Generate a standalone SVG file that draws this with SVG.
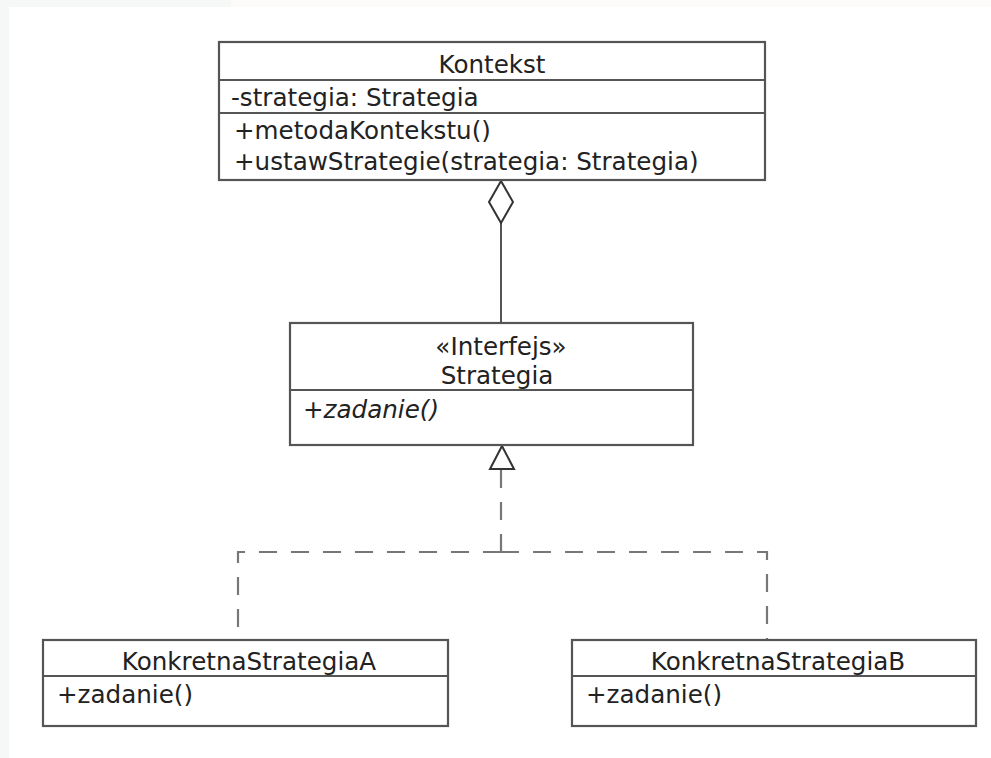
<svg xmlns="http://www.w3.org/2000/svg" width="991" height="758" viewBox="0 0 991 758">
  <style>
    .box { fill: #ffffff; stroke: #555555; stroke-width: 2.2; }
    .div { stroke: #555555; stroke-width: 2.2; }
    .t { font-family: "DejaVu Sans", sans-serif; font-size: 24.6px; fill: #222222; }
    .c { text-anchor: middle; }
    .it { font-style: italic; }
    .link { fill: none; stroke: #555555; stroke-width: 2; }
    .dash { fill: none; stroke: #777777; stroke-width: 2.2; stroke-dasharray: 18 14; }
    .head { fill: #ffffff; stroke: #333333; stroke-width: 2; stroke-linejoin: miter; }
  </style>
  <!-- page background -->
  <rect x="0" y="0" width="991" height="758" fill="#ffffff"/>
  <rect x="0" y="0" width="9" height="758" fill="#f6f8f8"/>
  <rect x="9" y="0" width="222" height="7" fill="#f6f8f8"/>
  <rect x="231" y="0" width="760" height="7" fill="#fdfbf9"/>

  <g id="connectors">
    <!-- aggregation: Kontekst holds Strategia -->
    <line class="link" x1="501" y1="222" x2="501" y2="323"/>
    <polygon class="head" points="501,181 513,202 501,223 489,202"/>
    <!-- realization: concrete strategies implement Strategia -->
    <path class="dash" d="M501,552 V470"/>
    <path class="dash" d="M501,552 H238 V640"/>
    <path class="dash" d="M501,552 H767 V640"/>
    <polygon class="head" points="502,446 514,469 490,469"/>
  </g>

  <g id="kontekst">
    <rect class="box" x="219" y="42" width="546" height="138"/>
    <line class="div" x1="219" y1="80" x2="765" y2="80"/>
    <line class="div" x1="219" y1="113" x2="765" y2="113"/>
    <text class="t c" x="492" y="73">Kontekst</text>
    <text class="t" x="231" y="106">-strategia: Strategia</text>
    <text class="t" x="234" y="139">+metodaKontekstu()</text>
    <text class="t" x="234" y="170">+ustawStrategie(strategia: Strategia)</text>
  </g>

  <g id="strategia">
    <rect class="box" x="290" y="323" width="403" height="122"/>
    <line class="div" x1="290" y1="390" x2="693" y2="390"/>
    <text class="t c" x="501" y="355">«Interfejs»</text>
    <text class="t c" x="497" y="384">Strategia</text>
    <text class="t it" x="303" y="418">+zadanie()</text>
  </g>

  <g id="konkretnaStrategiaA">
    <rect class="box" x="43" y="640" width="405" height="86"/>
    <line class="div" x1="43" y1="676" x2="448" y2="676"/>
    <text class="t c" x="249" y="670">KonkretnaStrategiaA</text>
    <text class="t" x="57" y="703">+zadanie()</text>
  </g>

  <g id="konkretnaStrategiaB">
    <rect class="box" x="572" y="640" width="404" height="86"/>
    <line class="div" x1="572" y1="676" x2="976" y2="676"/>
    <text class="t c" x="778" y="670">KonkretnaStrategiaB</text>
    <text class="t" x="586" y="703">+zadanie()</text>
  </g>
</svg>
